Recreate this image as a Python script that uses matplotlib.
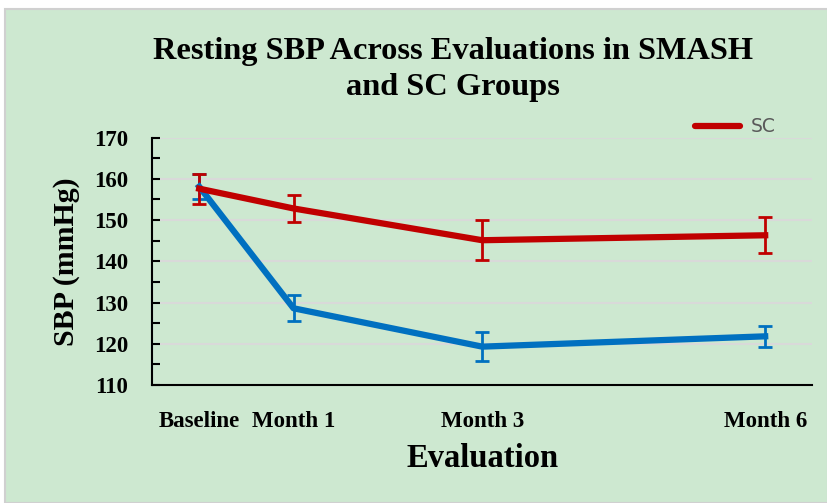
import matplotlib
matplotlib.use("Agg")
import matplotlib.pyplot as plt
from matplotlib.patches import Rectangle
from matplotlib.lines import Line2D
from matplotlib.ticker import MultipleLocator

# datos
meses = [0, 1, 3, 6]
etiquetas = ["Baseline", "Month 1", "Month 3", "Month 6"]

sc_media = [157.6, 152.8, 145.1, 146.3]
sc_err = [3.6, 3.3, 4.9, 4.4]

smash_media = [158.1, 128.6, 119.3, 121.8]
smash_err = [3.0, 3.1, 3.6, 2.6]

VERDE = "#cde8d0"
ROJO = "#c00000"
AZUL = "#0070c0"
SERIF = "Liberation Serif"

fig = plt.figure(figsize=(8.28, 5.03), dpi=100, facecolor="white")
# fondo verde con borde gris
fig.patches.append(Rectangle((0.006, 0.0), 0.994, 0.982, transform=fig.transFigure,
                             facecolor=VERDE, edgecolor="#d0d0d0", linewidth=1.5, zorder=-1))

ax = fig.add_axes([0.1836, 0.2346, 0.7975, 0.492])
ax.set_zorder(1)
ax.set_facecolor(VERDE)

ax.errorbar(meses, smash_media, yerr=smash_err, color=AZUL, linewidth=4.5,
            elinewidth=2, capsize=5, capthick=2, zorder=3)
ax.errorbar(meses, sc_media, yerr=sc_err, color=ROJO, linewidth=4.5,
            elinewidth=2, capsize=5, capthick=2, zorder=3)

ax.set_xlim(-0.5, 6.5)
ax.set_ylim(110, 170)
ax.yaxis.set_major_locator(MultipleLocator(10))
ax.yaxis.set_minor_locator(MultipleLocator(5))
ax.grid(axis="y", which="major", color="#d9d9d9", linewidth=1.5, zorder=0)
ax.set_axisbelow(True)

ax.set_xticks(meses)
ax.set_xticklabels(etiquetas)
ax.tick_params(axis="x", length=0, pad=19)
ax.tick_params(axis="y", which="both", direction="in", length=6, width=1.5, pad=17)
for lab in ax.get_xticklabels() + ax.get_yticklabels():
    lab.set_fontfamily(SERIF)
    lab.set_fontweight("bold")
    lab.set_fontsize(16.5)

for s in ["top", "right"]:
    ax.spines[s].set_visible(False)
for s in ["left", "bottom"]:
    ax.spines[s].set_linewidth(1.5)
    ax.spines[s].set_color("black")

ax.set_xlabel("Evaluation", fontfamily=SERIF, fontweight="bold", fontsize=23.5, labelpad=8)
ax.set_ylabel("SBP (mmHg)", fontfamily=SERIF, fontweight="bold", fontsize=21.5, labelpad=10)

fig.text(0.547, 0.862, "Resting SBP Across Evaluations in SMASH\nand SC Groups",
         ha="center", va="center", fontfamily=SERIF, fontweight="bold",
         fontsize=23.3, linespacing=1.3)

# leyenda: solo aparece SC, linea simple
h_sc = Line2D([], [], color=ROJO, linewidth=4.5, solid_capstyle="round")
ax.legend([h_sc], ["SC"], loc="upper right", bbox_to_anchor=(0.97, 1.15),
          frameon=False, handlelength=2.4, fontsize=13.5, labelcolor="#595959",
          handletextpad=0.6)

fig.savefig("out.png", dpi=100, facecolor=fig.get_facecolor())
